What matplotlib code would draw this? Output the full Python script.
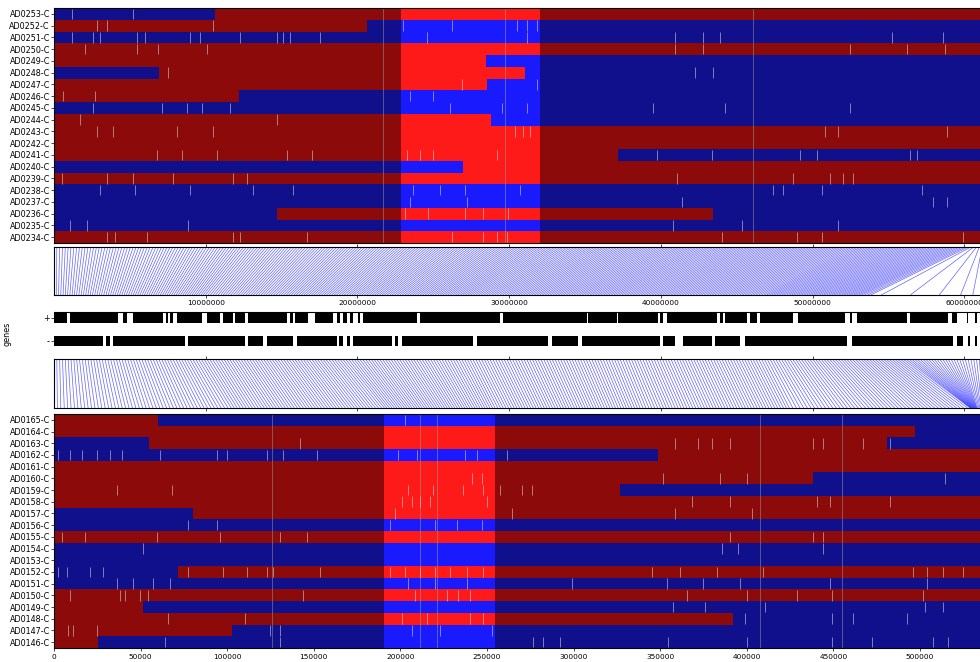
"""
Haplotype painting of two sample panels, linked to the gene track of the
reference chromosome through thin connector lines.
"""

import matplotlib.pyplot as plt
import numpy as np
from matplotlib.collections import LineCollection

# ---------------------------------------------------------------------------
# data
# ---------------------------------------------------------------------------
# upper panel: marker index, 0 = red haplotype, 1 = blue haplotype
TOP_SAMPLES = ["AD0253-C", "AD0252-C", "AD0251-C", "AD0250-C", "AD0249-C",
               "AD0248-C", "AD0247-C", "AD0246-C", "AD0245-C", "AD0244-C",
               "AD0243-C", "AD0242-C", "AD0241-C", "AD0240-C", "AD0239-C",
               "AD0238-C", "AD0237-C", "AD0236-C", "AD0235-C", "AD0234-C"]
TOP_FIRST_STATE = [1, 0, 1, 0, 0, 1, 0, 0, 1, 0,
                   0, 0, 0, 1, 0, 1, 1, 1, 1, 0]
TOP_SWITCHES = [[104500], [203000], [], [], [280300],
                [68100, 305600], [281000], [120000], [], [283500],
                [], [], [365900], [265400], [],
                [], [], [144700, 427600], [], []]
TOP_NMARKERS = 604000
TOP_HIGHLIGHT = (225100, 315300)
TOP_GAPS = [213600, 292900, 453800]
# missing calls per sample (thousands of markers)
TOP_MISSING = [
    [11.7, 51.3],
    [27.9, 34.4, 103.2, 226.4, 258.2, 300.4, 306.9, 313.4],
    [11.7, 25.3, 29.8, 53.9, 59.0, 88.2, 94.7, 120.7, 144.7, 148.6, 153.1, 172.6,
     242.0, 306.9, 402.9, 421.1, 432.1, 543.7, 576.8],
    [20.1, 53.9, 67.5, 99.3, 402.9, 421.1, 516.4, 553.4, 578.1],
    [],
    [74.0, 415.9, 427.6],
    [264.7, 313.4],
    [5.8, 26.6, 231.0, 245.9],
    [25.3, 70.1, 86.3, 96.0, 114.2, 256.9, 290.7, 306.9, 388.6, 435.3, 516.4],
    [16.9, 144.7],
    [27.9, 38.3, 79.8, 103.2, 299.1, 304.3, 308.8, 500.2, 508.7, 579.4],
    [],
    [66.8, 83.0, 105.8, 151.2, 167.4, 229.0, 237.5, 245.9, 287.4, 391.2, 426.9,
     484.0, 495.0, 555.4, 559.9],
    [],
    [5.2, 34.4, 51.3, 77.2, 116.1, 125.2, 404.2, 479.5, 503.5, 511.9, 518.4],
    [29.8, 52.6, 88.2, 129.1, 155.1, 232.9, 250.4, 266.7, 302.3, 466.5, 473.0,
     498.3, 563.2],
    [231.0, 268.0, 407.4, 570.3, 579.4],
    [227.7, 242.7, 266.7, 278.3, 294.6],
    [10.4, 21.4, 86.9, 401.6, 446.4, 508.7],
    [34.4, 39.6, 60.3, 116.1, 120.7, 164.1, 258.2, 278.3, 287.4, 293.9, 433.4,
     482.1, 498.3, 589.8],
]

# lower panel
BOT_SAMPLES = ["AD0165-C", "AD0164-C", "AD0163-C", "AD0162-C", "AD0161-C",
               "AD0160-C", "AD0159-C", "AD0158-C", "AD0157-C", "AD0156-C",
               "AD0155-C", "AD0154-C", "AD0153-C", "AD0152-C", "AD0151-C",
               "AD0150-C", "AD0149-C", "AD0148-C", "AD0147-C", "AD0146-C"]
BOT_FIRST_STATE = [0, 0, 1, 1, 0, 0, 0, 0, 1, 1,
                   0, 1, 1, 1, 1, 0, 0, 0, 0, 0]
BOT_SWITCHES = [[60000], [497100], [54900, 481000], [348700], [],
                [438200], [326800], [], [80300], [],
                [], [], [], [71600], [],
                [], [51400], [392000], [102800], [25400]]
BOT_NMARKERS = 537500
BOT_HIGHLIGHT = (190500, 254600)
BOT_GAPS = [125900, 211300, 221100, 407600, 455000]
BOT_MISSING = [
    [202.7],
    [],
    [142.0, 358.6, 371.8, 379.9, 390.3, 438.2, 444.0, 467.1, 482.7],
    [2.3, 9.2, 16.2, 24.8, 32.3, 39.3, 61.2, 94.1, 99.9, 123.0, 132.2, 151.9,
     198.6, 209.6, 237.3, 244.2, 261.6],
    [],
    [241.4, 247.1, 351.6, 384.5, 400.1, 514.5],
    [36.4, 68.1, 204.4, 218.8, 236.2, 247.7, 257.5, 270.2, 276.0],
    [200.9, 206.7, 211.3, 217.1, 250.0, 368.4, 390.3, 440.6, 448.1, 482.7],
    [196.9, 264.4, 358.6, 403.0],
    [77.4, 94.1, 194.0, 220.0, 232.7, 247.1],
    [4.6, 17.9, 59.5, 95.8, 130.5, 146.1, 390.3, 438.2, 444.0],
    [51.4, 385.7, 394.9, 444.0],
    [],
    [2.3, 7.5, 20.8, 28.3, 77.4, 97.6, 111.4, 123.0, 126.5, 153.6, 194.0, 202.7,
     211.3, 220.0, 228.7, 238.5, 247.7, 345.3, 361.5, 382.8, 409.4, 496.0, 504.1,
     513.3, 524.9],
    [36.4, 45.6, 57.2, 67.0, 204.4, 220.0, 238.5, 299.1, 353.9, 374.7, 396.1,
     448.1, 504.1],
    [9.2, 38.1, 41.0, 49.7, 54.3, 143.8, 208.4, 226.9, 233.3, 240.2, 365.5, 400.1,
     429.0, 449.2, 501.8],
    [357.4, 375.9, 410.5, 502.9, 513.3],
    [65.8, 110.3, 200.9, 215.4, 240.2, 247.7, 399.0, 449.2, 461.3, 492.5],
    [8.1, 11.0, 24.8, 124.7, 130.5, 206.7, 222.9, 252.9],
    [64.1, 130.5, 276.6, 282.3, 292.2, 354.5, 400.1, 449.2, 472.3, 507.5, 516.2],
]

# chromosome (bp)
CHROM_LEN = 61.37e6
GENOME_TICKS = [10000000, 20000000, 30000000, 40000000, 50000000, 60000000]
BOT_TICKS = [0, 50000, 100000, 150000, 200000, 250000, 300000, 350000,
             400000, 450000, 500000]

# gene clusters per strand, Mb
GENES_PLUS = [(0.0, 0.86), (1.05, 4.22), (4.55, 4.81), (5.21, 7.19), (7.38, 7.51),
              (7.65, 7.84), (8.11, 9.76), (10.09, 10.94), (11.14, 11.80),
              (11.93, 12.59), (12.79, 15.36), (15.56, 15.76), (15.89, 16.74),
              (17.20, 18.39), (18.66, 18.85), (19.05, 19.31), (19.51, 19.71),
              (20.04, 20.17), (20.37, 23.93), (24.13, 29.40), (29.60, 35.14),
              (35.20, 37.11), (37.18, 39.82), (39.95, 40.15), (40.41, 43.70),
              (43.90, 44.10), (44.23, 45.68), (45.88, 46.34), (46.54, 48.71),
              (49.04, 52.14), (52.47, 52.60), (52.93, 56.23), (56.43, 58.93),
              (59.20, 59.53), (60.18, 60.25), (60.71, 60.84)]
GENES_MINUS = [(0.0, 3.23), (3.43, 3.69), (3.89, 8.64), (8.83, 12.59),
               (12.79, 13.78), (14.04, 15.76), (16.02, 18.66), (18.79, 19.05),
               (19.31, 19.51), (19.71, 22.28), (22.48, 22.68), (22.94, 27.62),
               (27.88, 32.56), (32.83, 34.54), (34.81, 39.95), (40.15, 40.94),
               (41.46, 43.37), (43.57, 45.22), (45.55, 52.27), (52.60, 59.26),
               (59.53, 59.92), (60.25, 60.38), (60.71, 60.84)]

# marker index <-> chromosome position (Mb) anchors for the connectors
TOP_LINK_MARKER = [0, 122600, 224500, 315300, 419100, 516400, 587800, 594300, 599500, 604000]
TOP_LINK_MB = [0.0, 9.95, 19.18, 27.42, 37.31, 46.87, 53.26, 53.99, 59.40, 61.37]
BOT_LINK_MB = [0.0, 9.62, 19.18, 27.42, 37.31, 46.87, 56.10, 59.92, 61.37]
BOT_LINK_MARKER = [0, 101600, 190500, 254600, 338400, 425000, 528900, 532900, 537500]
N_LINKS = 330

# ---------------------------------------------------------------------------
# style
# ---------------------------------------------------------------------------
DARK = {0: "#8c0a0a", 1: "#10108c"}
BRIGHT = {0: "#ff1a1a", 1: "#1a1aff"}
LINK_COLOR = "#3c3cff"
W, H = 980, 662
LABEL_FS = 5.8
TICK_FS = 5.3


def px_axes(fig, left, top, right, bottom):
    return fig.add_axes([left / W, 1 - bottom / H, (right - left) / W, (bottom - top) / H])


def draw_painting(ax, samples, first, switches, n, highlight, gaps, missing):
    h0, h1 = highlight
    for row, (state, sw) in enumerate(zip(first, switches)):
        edges = [0] + sw + [n]
        for k in range(len(edges) - 1):
            s = (state + k) % 2
            a, b = edges[k], edges[k + 1]
            # split each segment at the highlighted window
            pieces = [(a, min(b, h0), DARK[s]),
                      (max(a, h0), min(b, h1), BRIGHT[s]),
                      (max(a, h1), b, DARK[s])]
            for x0, x1, c in pieces:
                if x1 > x0:
                    ax.broken_barh([(x0, x1 - x0)], (row - 0.5, 1.0),
                                   facecolors=c, edgecolor="none")
    for g in gaps:
        ax.axvline(g, color="#9a9a9a", lw=0.6, alpha=0.6)
    segs = [[(m * 1000, row - 0.45), (m * 1000, row + 0.45)]
            for row, marks in enumerate(missing) for m in marks]
    ax.add_collection(LineCollection(segs, colors="#e6e6e6", linewidths=0.6, alpha=0.6))
    ax.set_xlim(0, n)
    ax.set_ylim(len(samples) - 0.5, -0.5)
    ax.set_yticks(range(len(samples)))
    ax.set_yticklabels(samples, fontsize=LABEL_FS)
    ax.tick_params(axis="y", length=2, width=0.5, pad=1)
    for sp in ax.spines.values():
        sp.set_linewidth(0.8)


def draw_links(ax, mb_top, mb_bottom):
    segs = [[(t * 1e6, 1.0), (b * 1e6, 0.0)] for t, b in zip(mb_top, mb_bottom)]
    ax.add_collection(LineCollection(segs, colors=LINK_COLOR, linewidths=0.5, alpha=0.8))
    ax.set_xlim(0, CHROM_LEN)
    ax.set_ylim(0, 1)
    ax.set_yticks([])
    ax.set_xticks(GENOME_TICKS)
    ax.set_xticklabels([])
    ax.tick_params(axis="x", length=2, width=0.5, top=True)
    for sp in ax.spines.values():
        sp.set_linewidth(0.8)


fig = plt.figure(figsize=(W / 100, H / 100), dpi=100)

# upper painting
ax_top = px_axes(fig, 54, 8, 985, 243)
draw_painting(ax_top, TOP_SAMPLES, TOP_FIRST_STATE, TOP_SWITCHES,
              TOP_NMARKERS, TOP_HIGHLIGHT, TOP_GAPS, TOP_MISSING)
ax_top.set_xticks([])

# connectors: upper markers -> chromosome
ax_l1 = px_axes(fig, 54, 247, 985, 295)
top_markers = np.linspace(0, TOP_NMARKERS, N_LINKS)
top_mb = np.interp(top_markers, TOP_LINK_MARKER, TOP_LINK_MB)
draw_links(ax_l1, top_markers / TOP_NMARKERS * CHROM_LEN / 1e6, top_mb)
ax_l1.set_xticklabels([str(t) for t in GENOME_TICKS], fontsize=TICK_FS)
ax_l1.tick_params(axis="x", pad=1.5)

# gene track
ax_g = px_axes(fig, 54, 312, 985, 352)
for y, genes in ((1, GENES_PLUS), (0, GENES_MINUS)):
    ax_g.broken_barh([(a * 1e6, (b - a) * 1e6) for a, b in genes], (y - 0.2, 0.4),
                     facecolors="black", edgecolor="none")
ax_g.set_xlim(0, CHROM_LEN)
ax_g.set_ylim(-0.479, 1.26)
ax_g.set_yticks([1, 0])
ax_g.set_yticklabels(["+", "-"], fontsize=LABEL_FS)
ax_g.set_ylabel("genes", fontsize=LABEL_FS)
ax_g.yaxis.set_label_coords(-0.046, 0.45)
ax_g.set_xticks([])
ax_g.tick_params(axis="y", length=2, width=0.5, pad=1)
for side in ("left", "right", "bottom"):
    ax_g.spines[side].set_visible(False)
ax_g.spines["top"].set_linewidth(0.8)

# connectors: chromosome -> lower markers
ax_l2 = px_axes(fig, 54, 359, 985, 408)
bot_mb_top = np.linspace(0, CHROM_LEN / 1e6, N_LINKS)
bot_markers = np.interp(bot_mb_top, BOT_LINK_MB, BOT_LINK_MARKER)
draw_links(ax_l2, bot_mb_top, bot_markers / BOT_NMARKERS * CHROM_LEN / 1e6)

# lower painting
ax_bot = px_axes(fig, 54, 414, 985, 648)
draw_painting(ax_bot, BOT_SAMPLES, BOT_FIRST_STATE, BOT_SWITCHES,
              BOT_NMARKERS, BOT_HIGHLIGHT, BOT_GAPS, BOT_MISSING)
ax_bot.set_xticks(BOT_TICKS)
ax_bot.set_xticklabels([str(t) for t in BOT_TICKS], fontsize=TICK_FS)
ax_bot.tick_params(axis="x", length=2, width=0.5, pad=2.5)

fig.savefig("out.png", dpi=100, facecolor="white")
